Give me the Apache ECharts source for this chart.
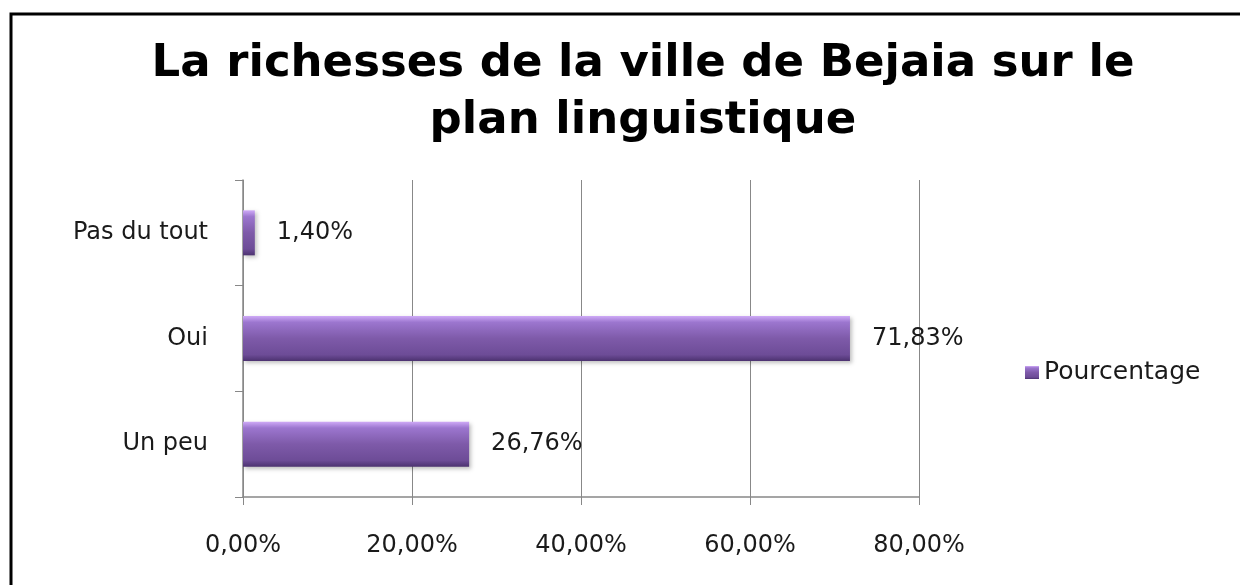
<!DOCTYPE html>
<html><head><meta charset="utf-8">
<script src="https://cdn.jsdelivr.net/npm/echarts@6/dist/echarts.min.js"></script>
<style>html,body{margin:0;padding:0;background:#fff}#c{width:1240px;height:585px}</style>
</head><body><div id="c"></div>
<script>
const categories = ['Un peu', 'Oui', 'Pas du tout'];
const values = [26.76, 71.83, 1.40];
const xTicks = [0, 20, 40, 60, 80];
const seriesName = 'Pourcentage';

const fmt = v => v.toFixed(2).replace('.', ',') + '%';
const chart = echarts.init(document.getElementById('c'));
chart.setOption({
  backgroundColor: '#fff',
  animation: false,
  title: {
    text: 'La richesses de la ville de Bejaia sur le\nplan linguistique',
    left: 638, top: 31, textAlign: 'center',
    textStyle: { fontFamily: 'DejaVu Sans', fontWeight: 'bold', fontSize: 45, lineHeight: 57, color: '#000' }
  },
  legend: {
    data: [seriesName], left: 1020, top: 355, orient: 'vertical',
    itemWidth: 14, itemHeight: 13, itemGap: 6,
    icon: 'rect',
    textStyle: { fontFamily: 'DejaVu Sans', fontSize: 25, color: '#1a1a1a' }
  },
  grid: { left: 243, right: 321, top: 180, bottom: 88, containLabel: false },
  xAxis: {
    type: 'value', min: xTicks[0], max: xTicks[xTicks.length - 1], interval: 20,
    axisLine: { show: true, lineStyle: { color: '#888', width: 1.5 } },
    axisTick: { show: true, length: 8, lineStyle: { color: '#888' } },
    splitLine: { show: true, lineStyle: { color: '#888', width: 1 } },
    axisLabel: { formatter: fmt, margin: 37, fontFamily: 'DejaVu Sans', fontSize: 24, color: '#1a1a1a' }
  },
  yAxis: {
    type: 'category', data: categories,
    axisLine: { show: true, lineStyle: { color: '#888', width: 1.5 } },
    axisTick: { show: true, length: 8, inside: false, lineStyle: { color: '#888' } },
    axisLabel: { margin: 35, fontFamily: 'DejaVu Sans', fontSize: 24, color: '#1a1a1a' }
  },
  series: [{
    name: seriesName, type: 'bar', data: values, barWidth: 45,
    itemStyle: {
      color: new echarts.graphic.LinearGradient(0, 0, 0, 1, [
        { offset: 0, color: '#cfaaf7' },
        { offset: 0.14, color: '#9c76cf' },
        { offset: 0.5, color: '#7e5aa9' },
        { offset: 0.86, color: '#6d4c97' },
        { offset: 1, color: '#4c3270' }
      ]),
      shadowColor: 'rgba(0,0,0,0.25)', shadowBlur: 4, shadowOffsetX: 2, shadowOffsetY: 2
    },
    label: { show: true, position: 'right', distance: 22, formatter: p => fmt(p.value),
      fontFamily: 'DejaVu Sans', fontSize: 24, color: '#1a1a1a' }
  }],
  graphic: [
    { type: 'polyline', shape: { points: [[11, 600], [11, 14], [1250, 14]] },
      style: { stroke: '#000', lineWidth: 3, fill: null } }
  ]
});
</script></body></html>
